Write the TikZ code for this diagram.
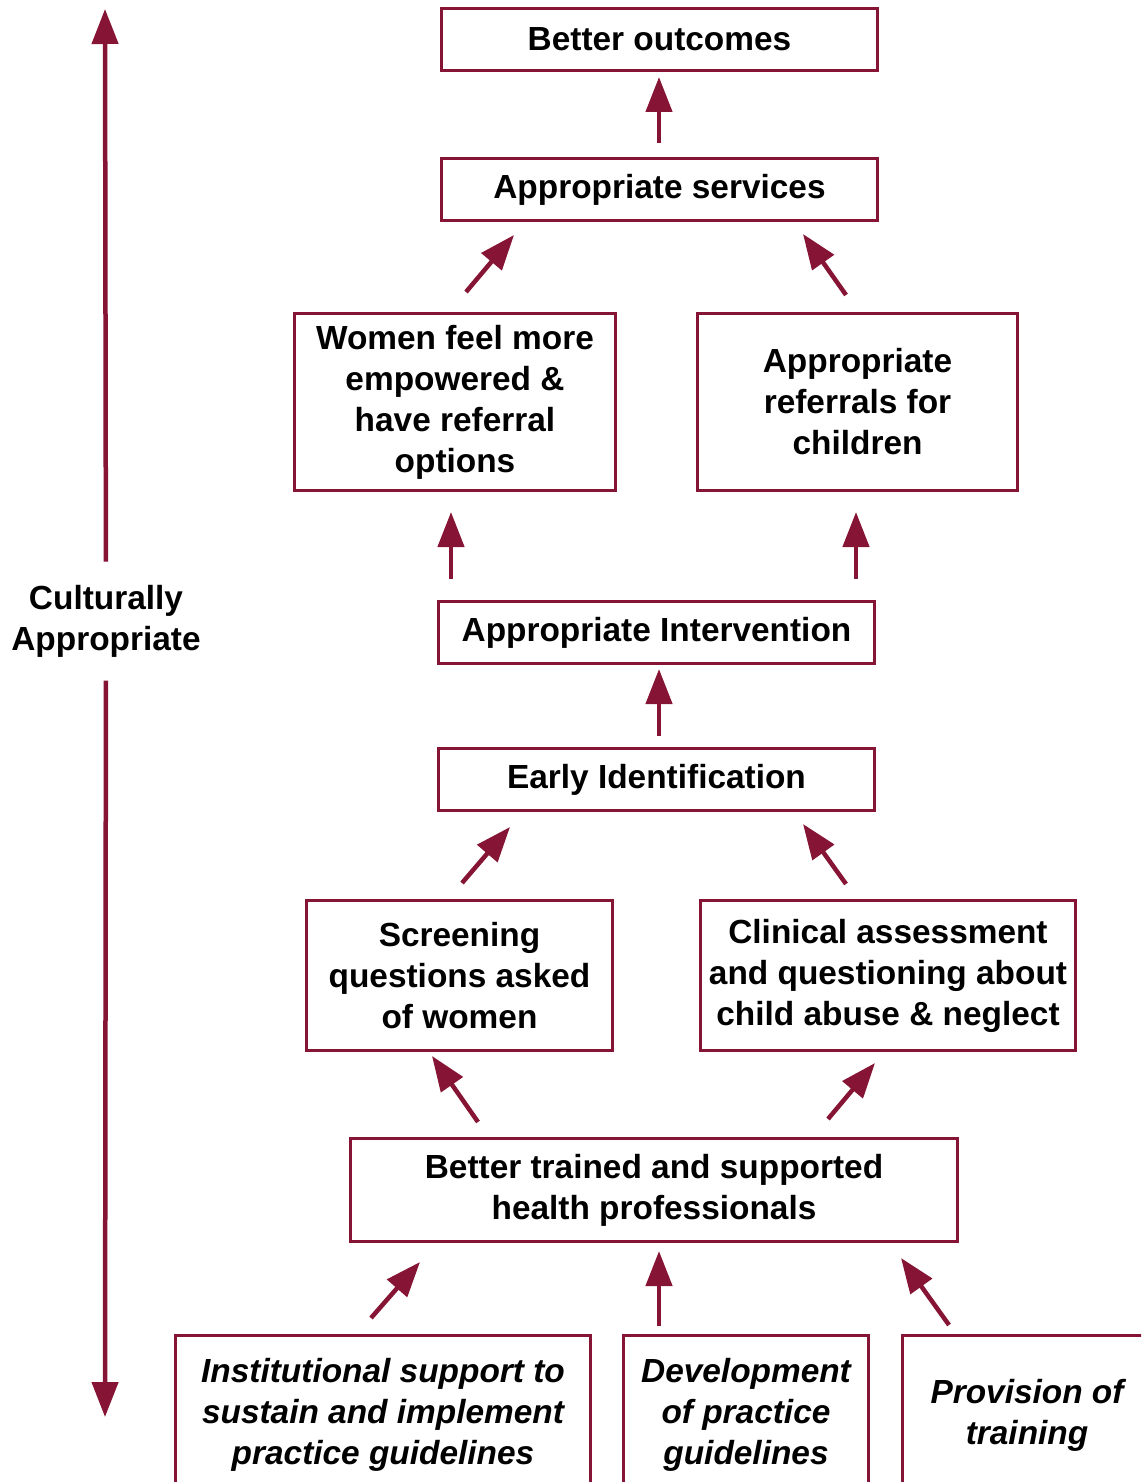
\documentclass[tikz,border=0pt]{standalone}
\usepackage{fontspec}
\setmainfont{Liberation Sans}
\usetikzlibrary{arrows.meta}
\definecolor{maroon}{RGB}{134,20,52}
\tikzstyle{box} = [draw = maroon, line width = 1.5pt, align = center, inner sep = 0pt, font = \bfseries\fontsize{16.7}{20.5}\selectfont]
\tikzstyle{action} = [box, font = \bfseries\itshape\fontsize{16.7}{20.5}\selectfont]
\tikzstyle{flow} = [draw = maroon, line width = 2.25pt, -{Triangle[length = 17.5pt, width = 13pt]}]

\begin{document}
\begin{tikzpicture}[x = 0.5pt, y = -0.5pt]
        \useasboundingbox (0, 0) rectangle (1141, 1482);
        \clip (0, 0) rectangle (1141, 1482);

        \node (outcomes) at (659.5, 39.5) [box, minimum width = 218pt, minimum height = 31pt] {Better outcomes};
        \node (services) at (659.5, 189.5) [box, minimum width = 218pt, minimum height = 31pt] {Appropriate services};
        \node (women) at (455, 402) [box, minimum width = 160.5pt, minimum height = 88.5pt] {Women feel more\\empowered \&\\have referral\\options};
        \node (referrals) at (857.5, 402) [box, minimum width = 160pt, minimum height = 88.5pt] {Appropriate\\referrals for\\children};
        \node (intervention) at (656.5, 632.5) [box, minimum width = 218pt, minimum height = 31pt] {Appropriate Intervention};
        \node (early) at (656.5, 779.5) [box, minimum width = 218pt, minimum height = 31pt] {Early Identification};
        \node (screening) at (459.5, 975.5) [box, minimum width = 153pt, minimum height = 75pt] {Screening\\questions asked\\of women};
        \node (clinical) at (888, 975.5) [box, minimum width = 187.5pt, minimum height = 75pt] {Clinical assessment\\and questioning about\\child abuse \& neglect};
        \node (trained) at (654, 1190) [box, minimum width = 303.5pt, minimum height = 51.5pt] {Better trained and supported\\health professionals};
        \node (institutional) at (383, 1415) [action, minimum width = 207.5pt, minimum height = 80pt] {Institutional support to\\sustain and implement\\practice guidelines};
        \node (development) at (746, 1415) [action, minimum width = 122.5pt, minimum height = 80pt] {Development\\of practice\\guidelines};
        \node (provision) at (1027, 1415) [action, minimum width = 124.5pt, minimum height = 80pt] {Provision of\\training};

        \node (culture) at (106, 621) [box, draw = none, minimum height = 58pt] {Culturally\\Appropriate};
        \coordinate (top) at (105, 9);
        \coordinate (bottom) at (105, 1417);
        \draw [flow] (culture) -- (top);
        \draw [flow] (culture) -- (bottom);

        % arrow ends between the boxes
        \coordinate (s1) at (659, 143);  \coordinate (t1) at (659, 77);
        \coordinate (s2) at (466, 292);  \coordinate (t2) at (514, 235);
        \coordinate (s3) at (846, 295);  \coordinate (t3) at (803, 234);
        \coordinate (s4) at (451, 579);  \coordinate (t4) at (451, 512);
        \coordinate (s5) at (856, 579);  \coordinate (t5) at (856, 512);
        \coordinate (s6) at (659, 736);  \coordinate (t6) at (659, 669);
        \coordinate (s7) at (462, 883);  \coordinate (t7) at (510, 827);
        \coordinate (s8) at (846, 884);  \coordinate (t8) at (803, 824);
        \coordinate (s9) at (478, 1122); \coordinate (t9) at (432, 1056);
        \coordinate (s10) at (828, 1119); \coordinate (t10) at (875, 1063);
        \coordinate (s11) at (371, 1318); \coordinate (t11) at (420, 1262);
        \coordinate (s12) at (659, 1326); \coordinate (t12) at (659, 1251);
        \coordinate (s13) at (949, 1325); \coordinate (t13) at (901, 1258);
        \foreach \i in {1, ..., 13}
            \draw [flow] (s\i) -- (t\i);
\end{tikzpicture}
\end{document}
